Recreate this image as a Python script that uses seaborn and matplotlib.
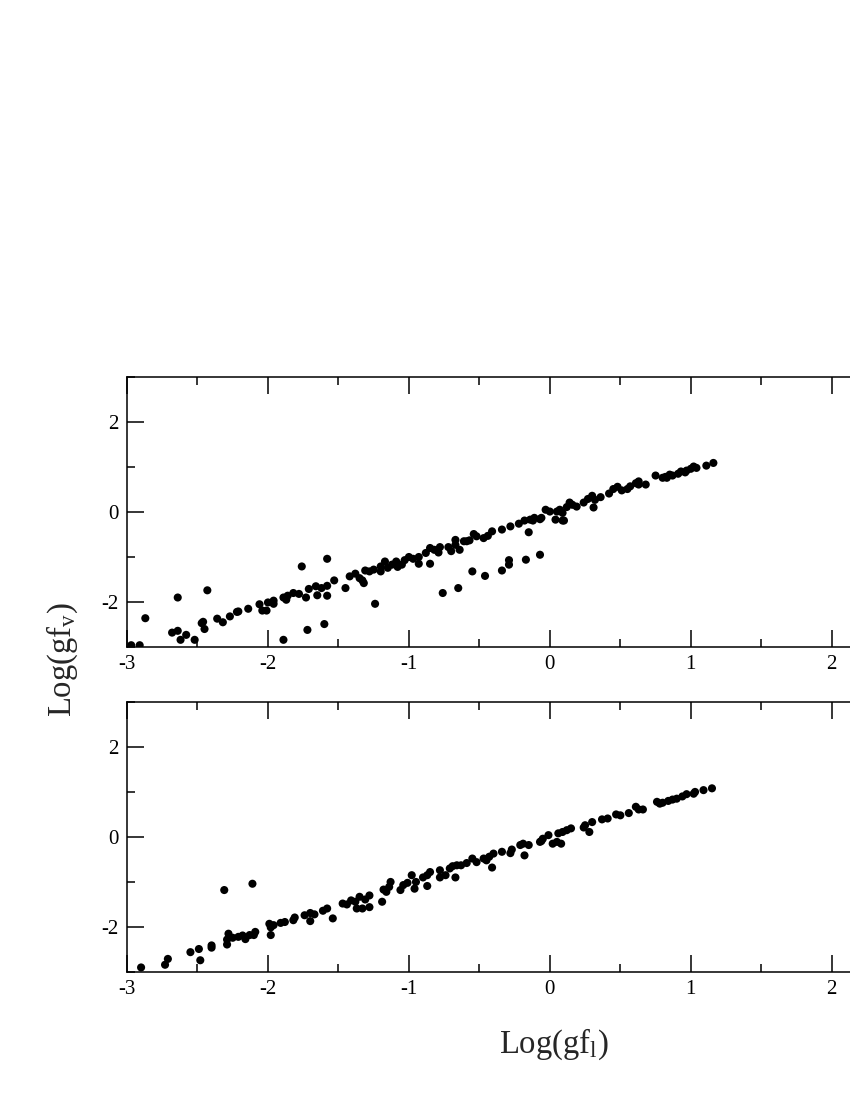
import numpy as np
import pandas as pd
import matplotlib
matplotlib.use("Agg")
import matplotlib.pyplot as plt
from matplotlib.ticker import MultipleLocator
import seaborn as sns

# ---- Data: top panel (velocity vs length form) ----
top_x = [-2.97, -2.91, -2.87, -2.68, -2.64, -2.62, -2.64, -2.58, -2.52, -2.47, -2.46, -2.45,
         -2.43, -2.36, -2.32, -2.27, -2.22, -2.21, -2.14, -2.06, -2.04, -2.01, -2.00, -1.96,
         -1.96, -1.89, -1.89, -1.87, -1.86, -1.82, -1.78, -1.76, -1.73, -1.72, -1.71, -1.66,
         -1.65, -1.62, -1.60, -1.58, -1.58, -1.58, -1.53, -1.45, -1.42, -1.38, -1.35, -1.33,
         -1.32, -1.31, -1.28, -1.25, -1.24, -1.20, -1.20, -1.17, -1.15, -1.12, -1.09, -1.08,
         -1.05, -1.03, -1.00, -0.97, -0.93, -0.93, -0.88, -0.85, -0.85, -0.82, -0.79, -0.78,
         -0.76, -0.72, -0.70, -0.67, -0.67, -0.65, -0.64, -0.61, -0.59, -0.57, -0.55, -0.54,
         -0.52, -0.47, -0.46, -0.44, -0.41, -0.34, -0.34, -0.29, -0.29, -0.28, -0.22, -0.17,
         -0.18, -0.15, -0.12, -0.07, -0.07, -0.14, -0.11, -0.06, -0.03, 0.00, 0.04, 0.05,
         0.07, 0.09, 0.09, 0.12, 0.14, 0.16, 0.19, 0.24, 0.27, 0.30, 0.31, 0.32,
         0.36, 0.42, 0.45, 0.48, 0.51, 0.55, 0.57, 0.61, 0.63, 0.63, 0.68, 0.75,
         0.80, 0.82, 0.83, 0.85, 0.87, 0.91, 0.93, 0.96, 0.97, 1.00, 1.02, 1.04,
         1.11, 1.16, 0.10]
top_y = [-2.96, -2.96, -2.36, -2.68, -2.64, -2.84, -1.90, -2.73, -2.84, -2.47, -2.44, -2.60,
         -1.74, -2.37, -2.45, -2.32, -2.22, -2.21, -2.15, -2.05, -2.19, -2.19, -2.01, -1.97,
         -2.04, -2.84, -1.90, -1.95, -1.86, -1.80, -1.82, -1.21, -1.90, -2.62, -1.71, -1.65,
         -1.85, -1.69, -2.49, -1.04, -1.86, -1.64, -1.52, -1.69, -1.43, -1.37, -1.47, -1.52,
         -1.58, -1.30, -1.32, -1.28, -2.04, -1.32, -1.21, -1.10, -1.24, -1.17, -1.10, -1.22,
         -1.17, -1.07, -1.00, -1.04, -1.15, -1.00, -0.91, -1.15, -0.80, -0.84, -0.90, -0.78,
         -1.80, -0.78, -0.87, -0.62, -0.73, -1.69, -0.84, -0.65, -0.65, -0.63, -1.32, -0.49,
         -0.54, -0.58, -1.42, -0.53, -0.43, -1.30, -0.39, -1.17, -1.07, -0.32, -0.26, -1.06,
         -0.19, -0.45, -0.19, -0.16, -0.95, -0.17, -0.13, -0.13, 0.05, 0.01, -0.17, 0.01,
         0.05, -0.19, -0.02, 0.11, 0.21, 0.16, 0.12, 0.21, 0.29, 0.36, 0.10, 0.27,
         0.33, 0.41, 0.51, 0.56, 0.48, 0.51, 0.57, 0.64, 0.68, 0.61, 0.61, 0.81,
         0.76, 0.78, 0.76, 0.83, 0.81, 0.85, 0.90, 0.88, 0.92, 0.96, 1.01, 0.98,
         1.03, 1.09, -0.19]

# ---- Data: bottom panel ----
bot_x = [-2.90, -2.73, -2.71, -2.55, -2.49, -2.48, -2.40, -2.40, -2.31, -2.29, -2.28, -2.29,
         -2.25, -2.21, -2.18, -2.16, -2.13, -2.11, -2.10, -2.09, -1.99, -1.98, -1.98, -1.96,
         -1.91, -1.88, -1.82, -1.81, -1.74, -1.70, -1.70, -1.67, -1.61, -1.58, -1.54, -1.47,
         -1.44, -1.41, -1.38, -1.37, -1.35, -1.33, -1.31, -1.28, -1.28, -1.19, -1.18, -1.16,
         -1.14, -1.13, -1.06, -1.04, -1.01, -0.98, -0.96, -0.95, -0.90, -0.87, -0.87, -0.85,
         -0.78, -0.78, -0.74, -0.71, -0.69, -0.67, -0.66, -0.63, -0.59, -0.55, -0.52, -0.47,
         -0.45, -0.43, -0.41, -0.40, -0.34, -0.28, -0.27, -0.21, -0.19, -0.18, -0.15, -0.07,
         -0.06, -0.05, -0.01, 0.02, 0.05, 0.08, 0.06, 0.09, 0.12, 0.15, 0.24, 0.25,
         0.28, 0.30, 0.37, 0.41, 0.47, 0.50, 0.56, 0.61, 0.63, 0.66, 0.76, 0.78,
         0.80, 0.84, 0.87, 0.90, 0.94, 0.97, 1.02, 1.03, 1.09, 1.15]
bot_y = [-2.90, -2.84, -2.71, -2.56, -2.49, -2.74, -2.41, -2.46, -1.18, -2.39, -2.15, -2.28,
         -2.24, -2.22, -2.19, -2.27, -2.18, -1.04, -2.18, -2.11, -1.93, -2.01, -2.18, -1.96,
         -1.91, -1.89, -1.85, -1.79, -1.74, -1.69, -1.87, -1.72, -1.64, -1.59, -1.81, -1.48,
         -1.50, -1.41, -1.44, -1.59, -1.33, -1.59, -1.39, -1.30, -1.56, -1.44, -1.17, -1.22,
         -1.11, -1.00, -1.18, -1.07, -1.02, -0.85, -1.15, -1.00, -0.90, -1.09, -0.85, -0.78,
         -0.74, -0.90, -0.85, -0.70, -0.65, -0.90, -0.63, -0.63, -0.58, -0.48, -0.56, -0.48,
         -0.52, -0.44, -0.68, -0.37, -0.33, -0.36, -0.28, -0.18, -0.15, -0.41, -0.18, -0.11,
         -0.09, -0.04, 0.04, -0.15, -0.11, -0.15, 0.08, 0.11, 0.15, 0.19, 0.21, 0.26,
         0.11, 0.33, 0.39, 0.41, 0.50, 0.48, 0.53, 0.67, 0.61, 0.61, 0.78, 0.74,
         0.76, 0.80, 0.83, 0.85, 0.90, 0.95, 0.96, 1.00, 1.04, 1.08]

x_ticks = [-3, -2, -1, 0, 1, 2]
y_ticks = [-2, 0, 2]

sns.set_style("ticks")
plt.rcParams['font.family'] = ['Liberation Serif', 'DejaVu Serif']
plt.rcParams['mathtext.fontset'] = 'custom'
plt.rcParams['mathtext.rm'] = 'Liberation Serif'
plt.rcParams['mathtext.it'] = 'Liberation Serif'
plt.rcParams['axes.unicode_minus'] = False

fig = plt.figure(figsize=(8.5, 11), dpi=100)
ax_top = fig.add_axes([0.1494, 0.4118, 0.995, 0.2455])
ax_bot = fig.add_axes([0.1494, 0.1164, 0.995, 0.2455])

for ax, xs, ys in [(ax_top, top_x, top_y), (ax_bot, bot_x, bot_y)]:
    df = pd.DataFrame({"x": xs, "y": ys})
    sns.scatterplot(data=df, x="x", y="y", ax=ax, color="black", s=34,
                    linewidth=0, edgecolor="none")
    ax.set_xlim(-3, 3)
    ax.set_ylim(-3, 3)
    ax.set_xticks(x_ticks)
    ax.set_yticks(y_ticks)
    ax.xaxis.set_minor_locator(MultipleLocator(0.5))
    ax.yaxis.set_minor_locator(MultipleLocator(1))
    ax.tick_params(which='both', direction='in', top=True, right=True,
                   labelsize=15, width=1.1, colors='black')
    ax.tick_params(which='major', length=12, pad=6)
    ax.tick_params(which='minor', length=5.5)
    for sp in ax.spines.values():
        sp.set_linewidth(1.1)
        sp.set_color('black')
    ax.set_xlabel("")
    ax.set_ylabel("")

fig.text(0.073, 0.40, r"Log(gf$_\mathregular{v}$)", rotation=90, fontsize=23.5,
         ha='center', va='center')
fig.text(0.651, 0.051, r"Log(gf$_\mathregular{l}$)", fontsize=23.5,
         ha='center', va='center')

fig.savefig("out.png", dpi=100)
